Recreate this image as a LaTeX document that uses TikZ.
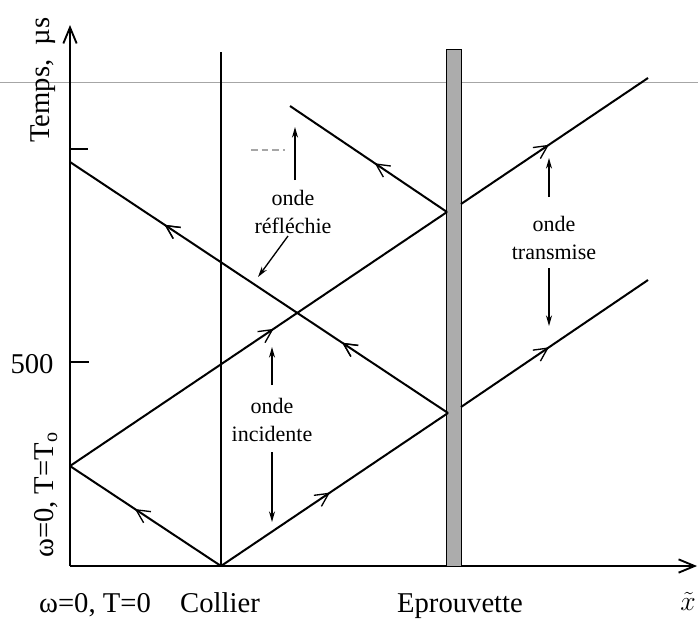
\documentclass[tikz,border=0pt]{standalone}
\usepackage{fontspec}
\setmainfont{Liberation Serif}
\usetikzlibrary{arrows.meta,decorations.markings}
\tikzset{
  wave/.style={line width=1.5pt},
  midarrow/.style={postaction={decorate},decoration={markings,mark=at position #1 with {\arrow{Straight Barb[length=10pt,width=10pt,line width=1pt]}}}},
  axis/.style={line width=1.4pt,-{Straight Barb[length=12pt,width=10pt]}},
  annot/.style={line width=1pt,-{Stealth[length=8pt,width=4.5pt]}},
  big/.style={font=\fontsize{21.5}{25}\selectfont, inner sep=0pt},
  small/.style={font=\fontsize{16.5}{20.5}\selectfont, align=center, inner sep=0pt},
}
\begin{document}
\begin{tikzpicture}[x=0.75pt,y=-0.75pt]
\useasboundingbox (0,0) rectangle (698,622);
% reference horizontal line
\coordinate (hl0) at (0,82);
\coordinate (hl1) at (698,82);
\draw[gray!70,line width=0.5pt] (hl0) -- (hl1);
\coordinate (ds0) at (251,150);
\coordinate (ds1) at (285,150);
\draw[gray!70,line width=0.8pt,dash pattern=on 5pt off 3pt] (ds0) -- (ds1);
% axes
\coordinate (O) at (70,566);
\coordinate (Ytip) at (70,25);
\coordinate (Xtip) at (697,566);
\draw[axis] (O) -- (Ytip);
\draw[axis] (O) -- (Xtip);
% ticks
\coordinate (t1a) at (70,362);
\coordinate (t1b) at (89,362);
\coordinate (t2a) at (70,149);
\coordinate (t2b) at (88,149);
\draw[line width=1.2pt] (t1a) -- (t1b);
\draw[line width=1.2pt] (t2a) -- (t2b);
% collier
\coordinate (c0) at (221,52);
\coordinate (c1) at (221,566);
\draw[line width=0.8pt] (c0) -- (c1);
% eprouvette bar
\node[draw=black, line width=1pt, fill=gray!65, minimum width=11.25pt, minimum height=387.75pt, inner sep=0pt, anchor=north west] (bar) at (446,49) {};
% wave points
\coordinate (A0) at (70,466);
\coordinate (C0) at (221,566);
\coordinate (B1) at (448,413);
\coordinate (B1r) at (461,407);
\coordinate (E1) at (648,280);
\coordinate (D0) at (70,162);
\coordinate (B2) at (447,212);
\coordinate (B2r) at (461,204);
\coordinate (E2) at (648,78);
\coordinate (G0) at (290,106);
\draw[wave, midarrow=0.57] (C0) -- (A0);
\draw[wave, midarrow=0.48] (C0) -- (B1);
\draw[wave, midarrow=0.47] (B1r) -- (E1);
\draw[wave, midarrow=0.28, midarrow=0.75] (B1) -- (D0);
\draw[wave, midarrow=0.54] (A0) -- (B2);
\draw[wave, midarrow=0.47] (B2r) -- (E2);
\draw[wave, midarrow=0.46] (B2) -- (G0);
% labels
\node[big, rotate=90, anchor=base] (ttl) at (49,80) {Temps,\ \ µs};
\node[big, rotate=90, anchor=base] (wt0) at (53,495) {ω=0, T=T\textsubscript{o}};
\node[big] (l500) at (32,364) {500};
\node[big, anchor=base] (wb) at (95,612) {ω=0, T=0};
\node[big, anchor=base] (coll) at (220,612) {Collier};
\node[big, anchor=base] (epr) at (460,612) {Eprouvette};
\node[big, anchor=base] (xt) at (688,610) {$\tilde{x}$};
% annotations
\node[small] (refl) at (293,212) {onde\\réfléchie};
\node[small] (trans) at (554,238) {onde\\transmise};
\node[small] (inc) at (272,420) {onde\\incidente};
\coordinate (r1s) at (295,180); \coordinate (r1e) at (295,127);
\coordinate (r2s) at (288,236); \coordinate (r2e) at (258,277);
\coordinate (t1s) at (549,197); \coordinate (t1e) at (549,158);
\coordinate (t2s) at (549,268); \coordinate (t2e) at (549,326);
\coordinate (i1s) at (272,385); \coordinate (i1e) at (272,347);
\coordinate (i2s) at (272,452); \coordinate (i2e) at (272,522);
\draw[annot] (r1s) -- (r1e);
\draw[annot] (r2s) -- (r2e);
\draw[annot] (t1s) -- (t1e);
\draw[annot] (t2s) -- (t2e);
\draw[annot] (i1s) -- (i1e);
\draw[annot] (i2s) -- (i2e);
\end{tikzpicture}
\end{document}
